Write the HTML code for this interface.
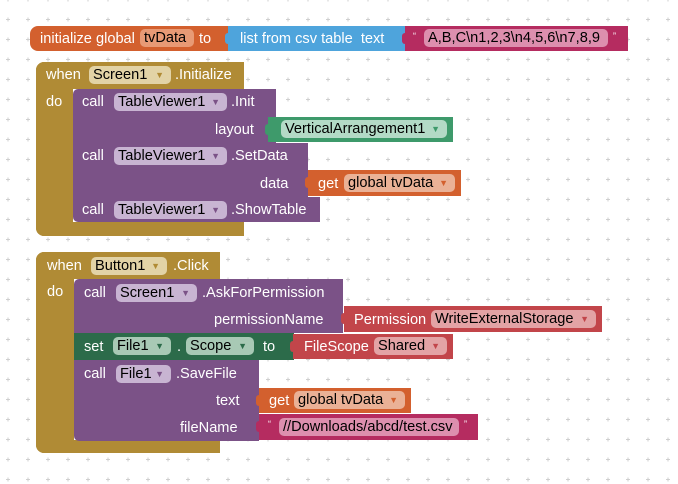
<!DOCTYPE html>
<html><head><meta charset="utf-8"><style>
html,body{margin:0;padding:0;}
body{width:678px;height:484px;position:relative;overflow:hidden;background:#fff;font-family:"Liberation Sans",Arial,sans-serif;font-size:14.6px;}
.grid{position:absolute;left:0;top:0;}
.b{position:absolute;}
.t{position:absolute;color:#fff;white-space:nowrap;line-height:16px;}
.f{position:absolute;border-radius:5px;color:#000;white-space:nowrap;line-height:18px;height:18px;padding-left:4px;box-sizing:border-box;overflow:hidden;}
.f i{font-style:normal;font-size:9px;position:absolute;right:7px;top:0;}
</style></head><body>
<svg class="grid" width="678" height="484">
<defs><pattern id="p" x="6" y="17" width="20" height="20" patternUnits="userSpaceOnUse">
<path d="M2 0.5V4.5M0 2.5H4" stroke="#cfcfcf" stroke-width="1"/></pattern></defs>
<rect width="678" height="484" fill="url(#p)"/>
</svg>

<!-- global init -->
<div class="b" style="left:30px;top:26px;width:202px;height:25px;background:#d3602e;border-radius:8px 0 0 8px;"></div>
<div class="t" style="left:40px;top:31px;">initialize global</div>
<div class="f" style="left:140px;top:29px;width:54px;background:#e89a75;">tvData</div>
<div class="t" style="left:199px;top:31px;">to</div>
<div class="b" style="left:228px;top:26px;width:178px;height:25px;background:#4ea4dc;"></div>
<div class="b" style="left:225px;top:33px;width:6px;height:11px;background:#4ea4dc;border-radius:3px 0 0 3px;"></div>
<div class="t" style="left:240px;top:31px;">list from csv table&nbsp;&nbsp;text</div>
<div class="b" style="left:405px;top:26px;width:223px;height:25px;background:#b52c60;"></div>
<div class="b" style="left:402px;top:33px;width:6px;height:11px;background:#b52c60;border-radius:3px 0 0 3px;"></div>
<div class="t" style="left:413px;top:28px;font-size:9px;">“</div>
<div class="f" style="left:424px;top:29px;width:184px;background:#dd8fae;">A,B,C\n1,2,3\n4,5,6\n7,8,9</div>
<div class="t" style="left:613px;top:28px;font-size:9px;">”</div>

<!-- event 1 -->
<div class="b" style="left:36px;top:62px;width:208px;height:27px;background:#b08b35;border-radius:8px 0 0 0;"></div>
<div class="b" style="left:36px;top:62px;width:37px;height:174px;background:#b08b35;border-radius:8px 0 0 8px;"></div>
<div class="b" style="left:36px;top:222px;width:208px;height:14px;background:#b08b35;border-radius:0 0 0 8px;"></div>
<div class="t" style="left:46px;top:67px;">when</div>
<div class="f" style="left:89px;top:66px;width:82px;background:#e2d3a6;">Screen1<i style="color:#b08b35">▼</i></div>
<div class="t" style="left:175px;top:67px;">.Initialize</div>
<div class="t" style="left:46px;top:94px;">do</div>

<div class="b" style="left:73px;top:89px;width:203px;height:54px;background:#7b5287;border-radius:5px 0 0 0;"></div>
<div class="t" style="left:82px;top:94px;">call</div>
<div class="f" style="left:114px;top:93px;width:113px;background:#c8b4d2;">TableViewer1<i style="color:#7b5287">▼</i></div>
<div class="t" style="left:231px;top:94px;">.Init</div>
<div class="t" style="left:215px;top:122px;">layout</div>
<div class="b" style="left:268px;top:117px;width:185px;height:25px;background:#3e9a6b;"></div>
<div class="b" style="left:265px;top:124px;width:6px;height:11px;background:#3e9a6b;border-radius:3px 0 0 3px;"></div>
<div class="f" style="left:281px;top:120px;width:166px;background:#b3dac6;">VerticalArrangement1<i style="color:#3e9a6b">▼</i></div>

<div class="b" style="left:73px;top:143px;width:235px;height:54px;background:#7b5287;"></div>
<div class="t" style="left:82px;top:148px;">call</div>
<div class="f" style="left:114px;top:147px;width:113px;background:#c8b4d2;">TableViewer1<i style="color:#7b5287">▼</i></div>
<div class="t" style="left:231px;top:148px;">.SetData</div>
<div class="t" style="left:260px;top:176px;">data</div>
<div class="b" style="left:308px;top:170px;width:153px;height:26px;background:#d3602e;"></div>
<div class="b" style="left:305px;top:177px;width:6px;height:11px;background:#d3602e;border-radius:3px 0 0 3px;"></div>
<div class="t" style="left:318px;top:176px;">get</div>
<div class="f" style="left:344px;top:174px;width:111px;background:#eab196;">global tvData<i style="color:#d3602e">▼</i></div>

<div class="b" style="left:73px;top:197px;width:247px;height:25px;background:#7b5287;border-radius:0 0 0 5px;"></div>
<div class="t" style="left:82px;top:202px;">call</div>
<div class="f" style="left:114px;top:201px;width:113px;background:#c8b4d2;">TableViewer1<i style="color:#7b5287">▼</i></div>
<div class="t" style="left:231px;top:202px;">.ShowTable</div>

<!-- event 2 -->
<div class="b" style="left:36px;top:252px;width:184px;height:27px;background:#b08b35;border-radius:8px 0 0 0;"></div>
<div class="b" style="left:36px;top:252px;width:38px;height:201px;background:#b08b35;border-radius:8px 0 0 8px;"></div>
<div class="b" style="left:36px;top:440px;width:184px;height:13px;background:#b08b35;border-radius:0 0 0 8px;"></div>
<div class="t" style="left:47px;top:258px;">when</div>
<div class="f" style="left:91px;top:257px;width:76px;background:#e2d3a6;">Button1<i style="color:#b08b35">▼</i></div>
<div class="t" style="left:173px;top:258px;">.Click</div>
<div class="t" style="left:47px;top:284px;">do</div>

<div class="b" style="left:74px;top:279px;width:269px;height:54px;background:#7b5287;border-radius:5px 0 0 0;"></div>
<div class="t" style="left:84px;top:285px;">call</div>
<div class="f" style="left:116px;top:284px;width:81px;background:#c8b4d2;">Screen1<i style="color:#7b5287">▼</i></div>
<div class="t" style="left:202px;top:285px;">.AskForPermission</div>
<div class="t" style="left:214px;top:312px;">permissionName</div>
<div class="b" style="left:344px;top:306px;width:258px;height:26px;background:#c2454a;"></div>
<div class="b" style="left:341px;top:313px;width:6px;height:11px;background:#c2454a;border-radius:3px 0 0 3px;"></div>
<div class="t" style="left:354px;top:312px;">Permission</div>
<div class="f" style="left:431px;top:310px;width:165px;background:#e3a3a5;">WriteExternalStorage<i style="color:#c2454a">▼</i></div>

<div class="b" style="left:74px;top:333px;width:220px;height:27px;background:#2c6b4a;"></div>
<div class="t" style="left:84px;top:339px;">set</div>
<div class="f" style="left:113px;top:337px;width:58px;background:#a8c9b5;">File1<i style="color:#2c6b4a">▼</i></div>
<div class="t" style="left:177px;top:339px;">.</div>
<div class="f" style="left:186px;top:337px;width:68px;background:#a8c9b5;">Scope<i style="color:#2c6b4a">▼</i></div>
<div class="t" style="left:263px;top:339px;">to</div>
<div class="b" style="left:293px;top:334px;width:160px;height:25px;background:#c2454a;"></div>
<div class="b" style="left:290px;top:341px;width:6px;height:11px;background:#c2454a;border-radius:3px 0 0 3px;"></div>
<div class="t" style="left:304px;top:339px;">FileScope</div>
<div class="f" style="left:374px;top:337px;width:73px;background:#e3a3a5;">Shared<i style="color:#c2454a">▼</i></div>

<div class="b" style="left:74px;top:360px;width:185px;height:81px;background:#7b5287;border-radius:0 0 0 5px;"></div>
<div class="t" style="left:84px;top:366px;">call</div>
<div class="f" style="left:116px;top:365px;width:55px;background:#c8b4d2;">File1<i style="color:#7b5287">▼</i></div>
<div class="t" style="left:176px;top:366px;">.SaveFile</div>
<div class="t" style="left:216px;top:393px;">text</div>
<div class="b" style="left:259px;top:388px;width:152px;height:25px;background:#d3602e;"></div>
<div class="b" style="left:256px;top:395px;width:6px;height:11px;background:#d3602e;border-radius:3px 0 0 3px;"></div>
<div class="t" style="left:269px;top:393px;">get</div>
<div class="f" style="left:294px;top:391px;width:111px;background:#eab196;">global tvData<i style="color:#d3602e">▼</i></div>
<div class="t" style="left:180px;top:420px;">fileName</div>
<div class="b" style="left:259px;top:414px;width:219px;height:26px;background:#b52c60;"></div>
<div class="b" style="left:256px;top:421px;width:6px;height:11px;background:#b52c60;border-radius:3px 0 0 3px;"></div>
<div class="t" style="left:268px;top:416px;font-size:9px;">“</div>
<div class="f" style="left:279px;top:418px;width:180px;background:#dd8fae;">//Downloads/abcd/test.csv</div>
<div class="t" style="left:464px;top:416px;font-size:9px;">”</div>
</body></html>
